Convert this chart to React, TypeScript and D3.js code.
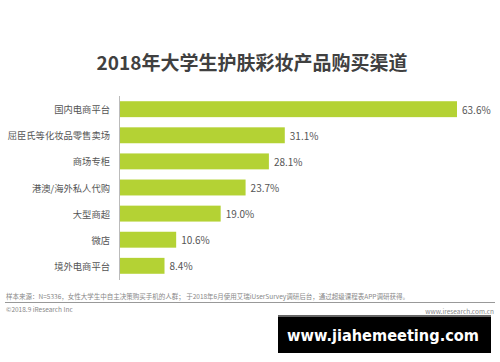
import * as d3 from "d3";

const channels = [
  "国内电商平台",
  "屈臣氏等化妆品零售卖场",
  "商场专柜",
  "港澳/海外私人代购",
  "大型商超",
  "微店",
  "境外电商平台",
];
const shares = [63.6, 31.1, 28.1, 23.7, 19.0, 10.6, 8.4];

const W = 500;
const H = 362;
const font = "'Noto Sans CJK SC', 'Noto Sans', sans-serif";

export default function App() {
  const x = d3.scaleLinear().domain([0, 63.6]).range([120, 457]);
  const y = d3
    .scaleBand<string>()
    .domain(channels)
    .range([96, 279])
    .paddingInner(0.39)
    .paddingOuter(0.2);

  return (
    <svg
      width={W}
      height={H}
      style={{ position: "absolute", left: 0, top: 0, background: "#fff" }}
      fontFamily={font}
    >
      <rect width={W} height={H} fill="#fff" />
      <text
        x={252}
        y={61}
        textAnchor="middle"
        dominantBaseline="central"
        fontSize={19}
        fontWeight="bold"
        fill="#404040"
      >
        2018年大学生护肤彩妆产品购买渠道
      </text>

      {channels.map((c, i) => {
        const by = y(c) ?? 0;
        const cy = by + y.bandwidth() / 2;
        return (
          <g key={c}>
            <rect
              x={x(0)}
              y={by}
              width={x(shares[i]) - x(0)}
              height={y.bandwidth()}
              fill="#b4d234"
            />
            <text
              x={110}
              y={cy}
              textAnchor="end"
              dominantBaseline="central"
              fontSize={9.3}
              fill="#555"
            >
              {c}
            </text>
            <text
              x={x(shares[i]) + 5}
              y={cy}
              dominantBaseline="central"
              fontSize={10}
              fill="#555"
            >
              {shares[i].toFixed(1)}%
            </text>
          </g>
        );
      })}
      <line x1={119.5} x2={119.5} y1={96} y2={280} stroke="#bbb" strokeWidth={1} />

      {/* footer */}
      <text x={6} y={299} fontSize={6.5} fill="#888">
        样本来源：N=5336，女性大学生中自主决策购买手机的人群； 于2018年6月使用艾瑞iUserSurvey调研后台，通过超级课程表APP调研获得。
      </text>
      <line x1={5} x2={495} y1={302.5} y2={302.5} stroke="#999" strokeWidth={1} />
      <text x={6} y={312} fontSize={6.5} fill="#888">
        ©2018.9 iResearch Inc
      </text>
      <text x={494} y={314} textAnchor="end" fontSize={6.5} fill="#888">
        www.iresearch.com.cn
      </text>

      <rect x={278} y={315} width={213} height={38} fill="#000" />
      <rect x={278} y={315} width={213} height={2} fill="#666" />
      <text
        x={287}
        y={336}
        dominantBaseline="central"
        fontSize={15}
        fontWeight="bold"
        fill="#fff"
        fontFamily="'DejaVu Sans', sans-serif"
        textLength={192}
        lengthAdjust="spacingAndGlyphs"
      >
        www.jiahemeeting.com
      </text>
    </svg>
  );
}
